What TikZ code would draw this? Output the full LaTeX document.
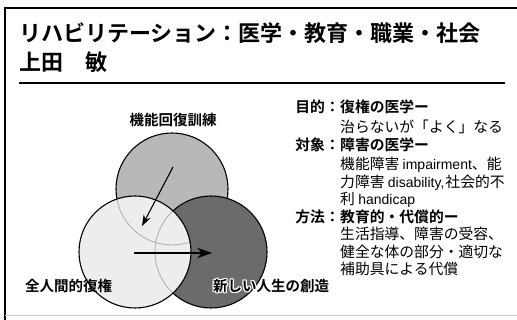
\documentclass[tikz,border=0pt]{standalone}
\usepackage{fontspec}
\setmainfont{Noto Sans CJK JP}
\newfontfamily\cjkb{Noto Sans CJK JP Bold}
\newfontfamily\lat{Liberation Sans}
\usetikzlibrary{arrows.meta}
\newcommand\myhalo[1]{{\color{white}\rlap{\raisebox{1.2pt}{#1}}\rlap{\raisebox{-1.2pt}{#1}}\rlap{\kern1.2pt#1}\rlap{\kern-1.2pt#1}\rlap{\kern1pt\raisebox{1pt}{#1}}\rlap{\kern-1pt\raisebox{-1pt}{#1}}\rlap{\kern1pt\raisebox{-1pt}{#1}}\rlap{\kern-1pt\raisebox{1pt}{#1}}}#1}
\newcommand\en[1]{{\lat\fontsize{14}{17}\selectfont #1}}
\definecolor{ctop}{gray}{0.72}
\definecolor{cright}{gray}{0.42}
\definecolor{cleft}{gray}{0.93}
\tikzset{
  circ/.style={circle, draw=black, line width=1.1pt, minimum size=#1, inner sep=0pt},
  lab/.style={font=\cjkb\fontsize{14.5}{16}\selectfont, inner sep=0pt},
  body/.style={font=\fontsize{14.8}{17}\selectfont, anchor=west, inner sep=0pt},
  bodyb/.style={font=\cjkb\fontsize{14.8}{17}\selectfont, anchor=west, inner sep=0pt},
  key/.style={font=\cjkb\fontsize{14.8}{17}\selectfont, anchor=east, inner sep=0pt},
  arr/.style={line width=1.1pt, -{Stealth[length=#1, width=0.7*#1]}},
  ghost/.style={draw=black!30, line width=0.9pt},
}
\begin{document}
\begin{tikzpicture}[x=1pt, y=-1pt]
\useasboundingbox (0,0) rectangle (517,320);
% frame
\draw[line width=1.8pt] (517,8) -- (5,8) -- (5,320);
\draw[line width=0.6pt, black!20] (5,315) -- (517,315);
% title
\node[anchor=west, inner sep=0pt, font=\cjkb\fontsize{22}{24}\selectfont] (title) at (19,33) {リハビリテーション：医学・教育・職業・社会};
\node[anchor=west, inner sep=0pt, font=\cjkb\fontsize{22}{24}\selectfont] (author) at (19,62) {上田　敏};
\draw[line width=1.2pt] (19,83) -- (505,83);
% circles
\node[circ=112pt, fill=ctop] (ctop) at (172,189) {};
\node[circ=112pt, fill=cright] (cright) at (211,252) {};
\fill[cleft] (135,252) circle[radius=56pt];
\begin{scope}
  \clip (135,252) circle[radius=56pt];
  \draw[ghost] (172,189) circle[radius=56pt];
  \draw[ghost] (211,252) circle[radius=56pt];
\end{scope}
\node[circ=112pt] (cleft) at (135,252) {};
% arrows
\coordinate (a1s) at (173,167);
\coordinate (a1e) at (142,226);
\draw[arr=11pt] (a1s) -- (a1e);
\coordinate (a2s) at (134,253);
\coordinate (a2e) at (212,253);
\draw[arr=15pt] (a2s) -- (a2e);
% circle labels
\node[lab] (l1) at (173,120) {機能回復訓練};
\node[lab, anchor=west] (l2) at (25,286) {全人間的復権};
\node[lab, anchor=west] (l3) at (213,286) {\myhalo{新しい人生の創造}};
% right text
\node[key] (k1) at (340,107) {目的：};
\node[bodyb] (t1) at (340,107) {復権の医学ー};
\node[body] (t2) at (340,127) {治らないが「よく」なる};
\node[key] (k2) at (340,145) {対象：};
\node[bodyb] (t3) at (340,145) {障害の医学ー};
\node[body] (t4) at (340,165) {機能障害 \en{impairment}、能};
\node[body] (t5) at (340,183) {力障害 \en{disability,}\kern1pt社会的不};
\node[body] (t6) at (340,200) {利 \en{handicap}};
\node[key] (k3) at (340,217) {方法：};
\node[bodyb] (t7) at (340,217) {教育的・代償的ー};
\node[body] (t8) at (340,234) {生活指導、障害の受容、};
\node[body] (t9) at (340,252) {健全な体の部分・適切な};
\node[body] (t10) at (340,269) {補助具による代償};
\end{tikzpicture}
\end{document}
